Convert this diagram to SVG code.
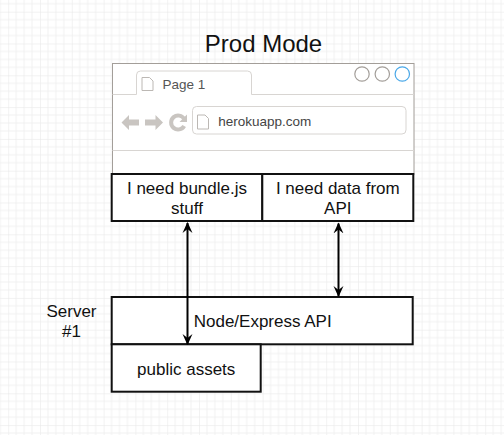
<svg xmlns="http://www.w3.org/2000/svg" width="504" height="435" viewBox="0 0 504 435">
<defs>
<pattern id="grid" patternUnits="userSpaceOnUse" x="8.2" y="11.7" width="31.8" height="31.8">
<path d="M7.95 0V31.8M15.9 0V31.8M23.85 0V31.8M0 7.95H31.8M0 15.9H31.8M0 23.85H31.8" stroke="#f1f1f1" stroke-width="1" fill="none"/>
<path d="M0 0V31.8M0 0H31.8" stroke="#e6e6e6" stroke-width="1" fill="none"/>
</pattern>
<marker id="ah" viewBox="0 0 10 10" refX="9" refY="5" markerWidth="5.5" markerHeight="5.5" orient="auto-start-reverse" markerUnits="strokeWidth">
<path d="M0,0.5 L10,5 L0,9.5 L3.5,5 z" fill="#000"/>
</marker>
</defs>
<style>
.t{font-family:"Liberation Sans",Arial,sans-serif;fill:#111}
.box{fill:#fff;stroke:#111;stroke-width:2}
.lt{stroke:#d8d5d2;stroke-width:1;fill:none}
.ic{fill:#c9c5c1}
.doc{fill:#fff;stroke:#bcb8b4;stroke-width:1}
.conn{stroke:#000;stroke-width:2;fill:none;marker-start:url(#ah);marker-end:url(#ah)}
</style>
<rect width="504" height="435" fill="#fff"/>
<rect width="504" height="435" fill="url(#grid)"/>

<g id="title"><text class="t" x="263.5" y="52" font-size="24" text-anchor="middle">Prod Mode</text></g>

<g id="browser">
<rect x="112.5" y="63.5" width="301.5" height="111" fill="#fff" stroke="#a39e99" stroke-width="1"/>
<path d="M112.5 94.5H136.5V75Q136.5 71 140.5 71H247.5Q251.5 71 251.5 75V94.5H414" class="lt"/>
<path d="M142 77.5H149.5L153 81V90.5H142Z" class="doc"/>
<text x="162.5" y="88.5" font-size="13.5" font-family="Liberation Sans,Arial,sans-serif" fill="#555">Page 1</text>
<circle cx="362" cy="74" r="7.2" fill="#fff" stroke="#a39e99" stroke-width="1.2"/>
<circle cx="382.3" cy="74" r="7.2" fill="#fff" stroke="#a39e99" stroke-width="1.2"/>
<circle cx="402.3" cy="74" r="7.2" fill="#fff" stroke="#4aa8e8" stroke-width="1.2"/>
<path d="M121.5 122.5L129 115V119.5H139V125.5H129V130Z" class="ic"/>
<path d="M163 122.5L155.5 115V119.5H145V125.5H155.5V130Z" class="ic"/>
<path d="M184.2 119A7 7 0 1 0 184.2 126" stroke="#c9c5c1" stroke-width="4" fill="none"/>
<path d="M187 114.5V122H179.5Z" class="ic"/>
<rect x="192.5" y="106.5" width="213.5" height="27.5" rx="4" fill="#fff" stroke="#d8d5d2" stroke-width="1"/>
<path d="M197.5 115H205L208.5 118.5V129H197.5Z" class="doc"/>
<text x="218.3" y="126" font-size="13.5" font-family="Liberation Sans,Arial,sans-serif" fill="#444">herokuapp.com</text>
<path d="M112.5 150.5H414" class="lt"/>
</g>

<g id="need-bundle">
<rect class="box" x="111.7" y="174" width="150.6" height="47"/>
<text class="t" font-size="17" text-anchor="middle"><tspan x="187" y="193.5">I need bundle.js</tspan><tspan x="187" y="213.5">stuff</tspan></text>
</g>
<g id="need-data">
<rect class="box" x="262.3" y="174" width="151" height="47"/>
<text class="t" font-size="17" text-anchor="middle"><tspan x="337.8" y="193.5">I need data from</tspan><tspan x="337.8" y="213.5">API</tspan></text>
</g>

<g id="server-label"><text class="t" font-size="17" text-anchor="middle"><tspan x="71.5" y="317">Server</tspan><tspan x="71.5" y="337">#1</tspan></text></g>

<g id="node-express">
<rect class="box" x="111.7" y="297" width="301" height="47.3"/>
<text class="t" x="262.7" y="327.3" font-size="17" text-anchor="middle">Node/Express API</text>
</g>
<g id="public-assets">
<rect class="box" x="111.7" y="344.3" width="149" height="47.4"/>
<text class="t" x="186.2" y="375" font-size="17" text-anchor="middle">public assets</text>
</g>

<g id="connectors">
<line class="conn" x1="187.5" y1="223" x2="187.5" y2="344"/>
<line class="conn" x1="338.5" y1="223.5" x2="338.5" y2="296"/>
</g>
</svg>
